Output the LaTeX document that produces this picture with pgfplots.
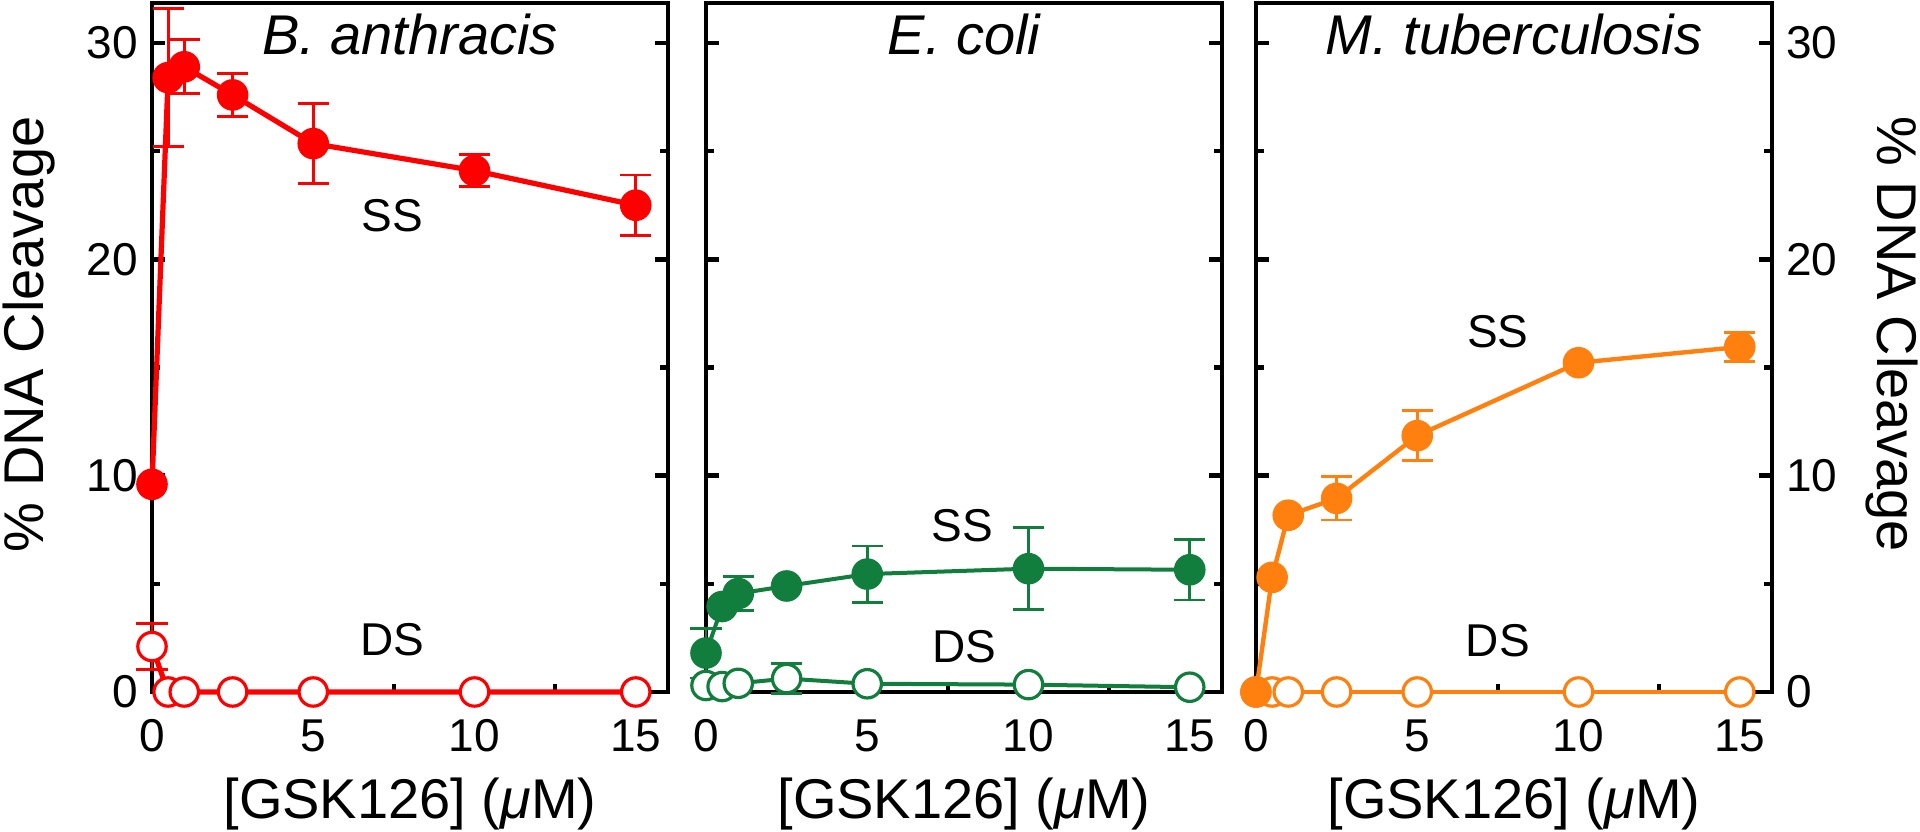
\documentclass[border=0pt]{standalone}
\usepackage{fontspec}
\setmainfont{Liberation Sans}
\usepackage{pgfplots}
\pgfplotsset{compat=1.18}
\definecolor{cred}{RGB}{255,0,0}
\definecolor{cgreen}{RGB}{18,126,62}
\definecolor{corange}{RGB}{255,128,14}
\pgfplotsset{
  panel/.style={
    scale only axis, width=129pt, height=172.25pt,
    xmin=0, xmax=16, ymin=0, ymax=31.85,
    xtick={0,5,10,15}, minor xtick={2.5,7.5,12.5},
    ytick={0,10,20,30}, minor ytick={5,15,25},
    xtick pos=left, tick align=inside,
    major tick length=3.3pt, minor tick length=2pt,
    every tick/.style={black, line width=1.1pt},
    axis line style={line width=1.2pt},
    clip=false, anchor=south west,
    tick label style={font=\fontsize{11.5}{13}\selectfont},
    xticklabel style={anchor=base, yshift=-15pt},
    /pgf/number format/assume math mode=true,
  },
  errs/.style={draw=none, mark=none, forget plot,
    error bars/.cd, y dir=both, y explicit,
    error bar style={draw=#1, line width=0.7pt, solid},
    error mark options={rotate=90, mark size=3.9pt, line width=0.7pt, draw=#1}},
  filled/.style={color=#1, mark=*, mark size=3.55pt,
    mark options={fill=#1, draw=#1, line width=0.8pt, solid}},
  hollow/.style={color=#1, mark=*, mark size=3.55pt,
    mark options={fill=white, draw=#1, line width=0.8pt, solid}},
}
\newcommand{\ttl}[1]{\node[anchor=base, inner sep=0pt, font=\fontsize{14}{16}\selectfont\itshape] at (rel axis cs:0.5,1) [yshift=-13pt] {#1};}
\newcommand{\xlab}{\node[anchor=base, inner sep=0pt, font=\fontsize{14}{16}\selectfont] at (rel axis cs:0.5,0) [yshift=-31.6pt] {[GSK126] (\textit{μ}M)};}
\newcommand{\lab}[3]{\node[font=\fontsize{11.5}{13}\selectfont, inner sep=0pt] at (axis cs:#1,#2) {#3};}
\begin{document}
\begin{tikzpicture}
% ---------- B. anthracis ----------
\begin{axis}[panel, at={(38pt,35pt)}]
  \addplot[errs=cred] coordinates {
    (0.5,28.4) +- (0,3.2)
    (1,28.9) +- (0,1.25)
    (2.5,27.6) +- (0,1.0)
    (5,25.35) +- (0,1.85)
    (10,24.1) +- (0,0.75)
    (15,22.5) +- (0,1.4)
    (0,2.1) +- (0,1.05)
  };
  \addplot[hollow=cred, line width=1.3pt] coordinates {
    (0,2.1) (0.5,0) (1,0) (2.5,0) (5,0) (10,0) (15,0)
  };
  \addplot[filled=cred, line width=1.3pt] coordinates {
    (0,9.6) (0.5,28.4) (1,28.9) (2.5,27.6) (5,25.35) (10,24.1) (15,22.5)
  };
  \ttl{B. anthracis}
  \xlab
  \lab{7.45}{22.0}{SS}
  \lab{7.45}{2.4}{DS}
\end{axis}
% ---------- E. coli ----------
\begin{axis}[panel, at={(176.5pt,35pt)}, yticklabels={}]
  \addplot[errs=cgreen] coordinates {
    (0,1.8) +- (0,1.15)
    (1,4.55) +- (0,0.77)
    (5,5.45) +- (0,1.3)
    (10,5.7) +- (0,1.9)
    (15,5.65) +- (0,1.4)
    (2.5,0.62) +- (0,0.69)
  };
  \addplot[hollow=cgreen, line width=1pt] coordinates {
    (0,0.3) (0.5,0.25) (1,0.4) (2.5,0.62) (5,0.38) (10,0.34) (15,0.22)
  };
  \addplot[filled=cgreen, line width=1pt] coordinates {
    (0,1.8) (0.5,3.95) (1,4.55) (2.5,4.9) (5,5.45) (10,5.7) (15,5.65)
  };
  \ttl{E. coli}
  \xlab
  \lab{7.95}{7.7}{SS}
  \lab{8.0}{2.1}{DS}
\end{axis}
% ---------- M. tuberculosis ----------
\begin{axis}[panel, at={(314pt,35pt)}, yticklabel pos=right]
  \addplot[errs=corange] coordinates {
    (2.5,8.95) +- (0,1.0)
    (5,11.85) +- (0,1.15)
    (15,15.95) +- (0,0.67)
  };
  \addplot[hollow=corange, line width=1.1pt] coordinates {
    (0,0) (0.5,0) (1,0) (2.5,0) (5,0) (10,0) (15,0)
  };
  \addplot[filled=corange, line width=1.1pt] coordinates {
    (0,0) (0.5,5.3) (1,8.17) (2.5,8.95) (5,11.85) (10,15.22) (15,15.95)
  };
  \ttl{M. tuberculosis}
  \xlab
  \lab{7.5}{16.67}{SS}
  \lab{7.5}{2.35}{DS}
\end{axis}
\node[rotate=90, anchor=base, inner sep=0pt, font=\fontsize{14}{16}\selectfont] at (10.75pt,124.4pt) {\% DNA Cleavage};
\node[rotate=-90, anchor=base, inner sep=0pt, font=\fontsize{14}{16}\selectfont] at (469.25pt,124.4pt) {\% DNA Cleavage};
\pgfresetboundingbox
\path[use as bounding box] (0,0) rectangle (480pt,208pt);
\end{tikzpicture}
\end{document}
